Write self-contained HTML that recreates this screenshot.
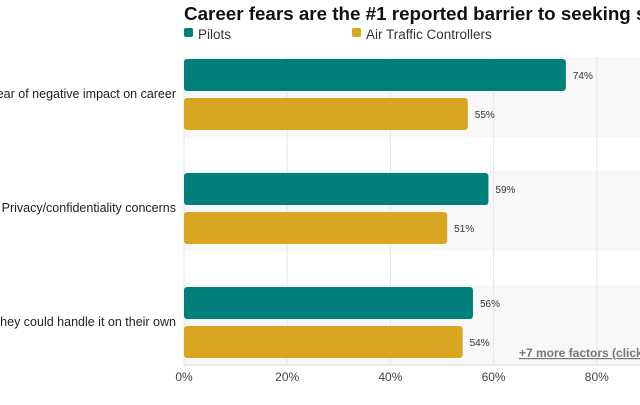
<!DOCTYPE html>
<html><head><meta charset="utf-8"><style>
body{margin:0;width:640px;height:400px;overflow:hidden;background:#fff;font-family:"Liberation Sans",sans-serif}
svg text{font-family:"Liberation Sans",sans-serif}
</style></head><body>
<svg width="640" height="400">
<text x="184" y="20" font-size="18.8" font-weight="bold" fill="#111">Career fears are the #1 reported barrier to seeking support</text>
<g>
<rect x="184" y="28" width="9" height="9" rx="2" fill="#00807d"/>
<text x="198" y="39" font-size="13.5" fill="#333">Pilots</text>
<rect x="352" y="28" width="9" height="9" rx="2" fill="#daa520"/>
<text x="366" y="39" font-size="13.5" fill="#333">Air Traffic Controllers</text>
</g>
<g id="plot"></g>
<text x="519" y="357" font-size="12" font-weight="bold" fill="#777" text-decoration="underline">+7 more factors (click to expand)</text>
</svg>
<script>
const categories=["Fear of negative impact on career","Privacy/confidentiality concerns","Believed they could handle it on their own"];
const pilots=[74,59,56];
const atc=[55,51,54];
const ticks=[0,20,40,60,80,100];
const x0=184, pxPer=5.16;
const xs=v=>x0+v*pxPer;
const bandY=i=>57+i*114;
const g=document.getElementById('plot');
const NS='http://www.w3.org/2000/svg';
function mk(t,a){const e=document.createElementNS(NS,t);for(const k in a)e.setAttribute(k,a[k]);g.appendChild(e);return e;}
categories.forEach((c,i)=>{
 const r=mk('rect',{x:x0,y:bandY(i),width:640-x0,height:80,fill:'#f8f8f8'});
 
 
});
ticks.forEach(t=>{
 const l=mk('line',{x1:xs(t),x2:xs(t),y1:57,y2:365,stroke:'#e6e6e6','stroke-width':1});
 
 
 const tx=mk('text',{x:xs(t),y:381,'font-size':12,fill:'#444','text-anchor':'middle'});
 tx.textContent=t+'%';
 
 
});
categories.forEach((c,i)=>{
 const by=bandY(i);
 const lab=mk('text',{x:176,y:by+41,'font-size':12.5,fill:'#222','text-anchor':'end'});
 lab.textContent=c;
 
 
 [[pilots,'#00807d',2],[atc,'#daa520',41]].forEach(([arr,col,off])=>{
  const v=arr[i];
  const b=mk('rect',{x:x0,y:by+off,width:xs(v)-x0,height:32,rx:3,fill:col});
  
  
  const vt=mk('text',{x:xs(v)+7,y:by+off+20,'font-size':10,fill:'#333'});
  vt.textContent=v+'%';
  
  
 });
});
const ax=mk('line',{x1:x0,x2:640,y1:365,y2:365,stroke:'#e0e0e0','stroke-width':1.5});


</script>
</body></html>
